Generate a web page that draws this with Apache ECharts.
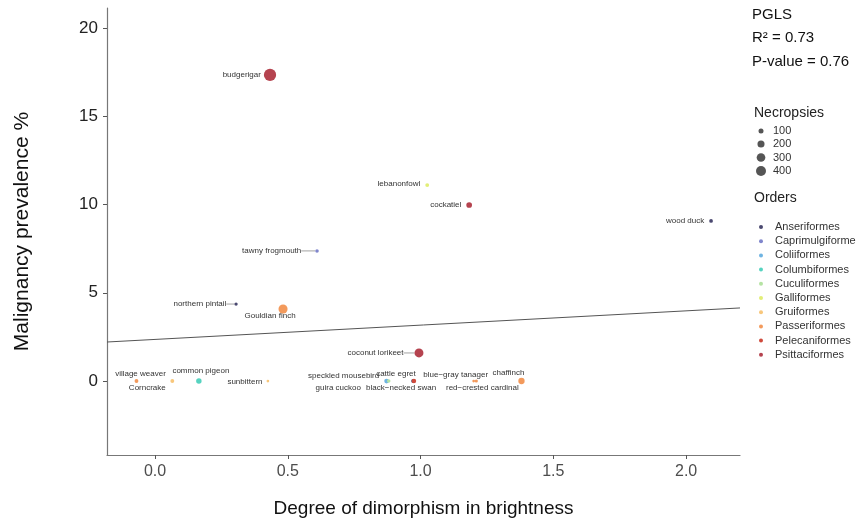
<!DOCTYPE html>
<html>
<head>
<meta charset="utf-8">
<script src="https://cdn.jsdelivr.net/npm/echarts@6/dist/echarts.min.js"></script>
<style>html,body{margin:0;padding:0;background:#fff}#c{width:856px;height:524px}</style>
</head>
<body>
<div id="c"></div>
<script>
// ---- data ----
const orders = ['Anseriformes','Caprimulgiformes','Coliiformes','Columbiformes','Cuculiformes','Galliformes','Gruiformes','Passeriformes','Pelecaniformes','Psittaciformes'];
const orderColors = ['#4a4870','#8086cc','#6fb4e2','#56d3c0','#b5e3a3','#e2ee77','#f8c77c','#f39a5c','#cf4a3c','#b5434f'];
const species = ['budgerigar','lebanonfowl','cockatiel','wood duck','tawny frogmouth','northern pintail','Gouldian finch','coconut lorikeet','village weaver','Corncrake','common pigeon','sunbittern','speckled mousebird','guira cuckoo','black\u2212necked swan','cattle egret','blue\u2212gray tanager','red\u2212crested cardinal','chaffinch'];
const speciesOrder = ['Psittaciformes','Galliformes','Psittaciformes','Anseriformes','Caprimulgiformes','Anseriformes','Passeriformes','Psittaciformes','Passeriformes','Gruiformes','Columbiformes','Gruiformes','Coliiformes','Cuculiformes','Anseriformes','Pelecaniformes','Passeriformes','Passeriformes','Passeriformes'];
const dimorphism = [0.433,1.025,1.183,2.094,0.61,0.305,0.482,0.994,-0.07,0.065,0.165,0.425,0.872,0.88,0.972,0.975,1.2,1.21,1.38];
const malignancy = [17.34,11.1,9.97,9.07,7.37,4.36,4.08,1.59,0,0,0,0,0,0,0,0,0,0,0];
const necropsies = [600,60,130,55,50,45,330,320,60,60,120,30,90,50,60,80,30,40,160];
const fitLine = [[-0.181,2.21],[2.203,4.14]];
const xTicks = [0,0.5,1,1.5,2];
const yTicks = [0,5,10,15,20];
const sizeLegend = [100,200,300,400];
const stats = ['PGLS','R\u00b2 = 0.73','P-value = 0.76'];

// ---- label placement (style) ----
const place = {
  'budgerigar':{p:'left',d:3},
  'lebanonfowl':{p:'left',d:5,dy:-1},
  'cockatiel':{p:'left',d:5},
  'wood duck':{p:'left',d:5},
  'tawny frogmouth':{p:'left',d:2,dx:-12,line:true},
  'northern pintail':{p:'left',d:1,dx:-7,line:true},
  'Gouldian finch':{p:'bottom',d:-2,dx:-13},
  'coconut lorikeet':{p:'left',d:2,dx:-9,line:true},
  'village weaver':{p:'top',d:1,dx:4},
  'Corncrake':{p:'bottom',d:1,dx:-25},
  'common pigeon':{p:'top',d:3,dx:2},
  'sunbittern':{p:'left',d:4,dy:1},
  'speckled mousebird':{p:'left',d:5,dy:-5},
  'guira cuckoo':{p:'left',d:26,dy:7},
  'black\u2212necked swan':{p:'bottom',d:1,dx:-12},
  'cattle egret':{p:'top',d:1,dx:-18},
  'blue\u2212gray tanager':{p:'top',d:1,dx:-18},
  'red\u2212crested cardinal':{p:'bottom',d:1,dx:6},
  'chaffinch':{p:'top',d:1,dx:-13}
};
const FONT = 'Liberation Sans, Arial, Helvetica, sans-serif';
const sizeOf = n => Math.sqrt(n) / 2;

const seriesIdx = [];
const series = orders.map((o, oi) => {
  const idxs = [];
  species.forEach((s, i) => { if (speciesOrder[i] === o) idxs.push(i); });
  seriesIdx.push(idxs);
  return {
    type: 'scatter',
    name: o,
    itemStyle: {color: orderColors[oi], opacity: 1},
    symbolSize: v => sizeOf(v[2]),
    z: 3,
    data: idxs.map(i => {
      const pl = place[species[i]];
      return {
        name: species[i],
        value: [dimorphism[i], malignancy[i], necropsies[i]],
        label: {show: true, position: pl.p, distance: pl.d},
        labelLine: {show: !!pl.line, lineStyle: {color: '#8a8a8a', width: 0.8}}
      };
    }),
    label: {show: true, formatter: p => p.name, fontSize: 8, color: '#333', fontFamily: FONT},
    labelLayout: params => {
      const arr = seriesIdx[params.seriesIndex];
      const i = arr ? arr[params.dataIndex] : null;
      if (i == null) return {};
      const pl = place[species[i]];
      return {dx: pl.dx || 0, dy: pl.dy || 0};
    },
    emphasis: {disabled: true}
  };
});
series.push({
  type: 'line', name: 'fit', data: fitLine, showSymbol: false, symbol: 'none',
  lineStyle: {color: '#555', width: 1}, z: 2, silent: true
});

const graphics = [];
stats.forEach((t, i) => graphics.push({type: 'text', left: 752, top: 7 + i * 23.5,
  style: {text: t, font: '15px ' + FONT, fill: '#111'}}));
graphics.push({type: 'text', left: 754, top: 106, style: {text: 'Necropsies', font: '14px ' + FONT, fill: '#222'}});
const sy = [131, 144, 157.5, 171];
sizeLegend.forEach((n, i) => {
  graphics.push({type: 'circle', shape: {cx: 761, cy: sy[i], r: sizeOf(n) / 2}, style: {fill: '#555'}});
  graphics.push({type: 'text', x: 773, y: sy[i], style: {text: String(n), font: '11px ' + FONT, fill: '#333', verticalAlign: 'middle'}});
});
graphics.push({type: 'text', left: 754, top: 191, style: {text: 'Orders', font: '14px ' + FONT, fill: '#222'}});

const chart = echarts.init(document.getElementById('c'), null, {renderer: 'canvas'});
chart.setOption({
  animation: false,
  backgroundColor: '#fff',
  grid: {left: 107, right: 116, top: 8, bottom: 69, containLabel: false},
  xAxis: {
    type: 'value', min: -0.181, max: 2.203,
    name: 'Degree of dimorphism in brightness', nameLocation: 'middle', nameGap: 44,
    nameTextStyle: {fontSize: 19, color: '#111', fontFamily: FONT},
    splitLine: {show: false},
    axisLine: {show: true, onZero: false, lineStyle: {color: '#777', width: 1.2}},
    axisTick: {show: true, length: 4, customValues: xTicks, lineStyle: {color: '#555'}},
    axisLabel: {customValues: xTicks, formatter: v => v.toFixed(1), fontSize: 16, color: '#4d4d4d', margin: 9, fontFamily: FONT}
  },
  yAxis: {
    type: 'value', min: -4.19, max: 21.13,
    name: 'Malignancy prevalence %', nameLocation: 'middle', nameGap: 74,
    nameTextStyle: {fontSize: 21, color: '#111', fontFamily: FONT},
    splitLine: {show: false},
    axisLine: {show: true, onZero: false, lineStyle: {color: '#777', width: 1.2}},
    axisTick: {show: true, length: 4, customValues: yTicks, lineStyle: {color: '#555'}},
    axisLabel: {customValues: yTicks, fontSize: 17, color: '#222', margin: 9, fontFamily: FONT}
  },
  legend: {
    data: orders, orient: 'vertical', left: 754, top: 216,
    icon: 'circle', itemWidth: 4, itemHeight: 4, itemGap: 2.2,
    textStyle: {fontSize: 11, color: '#333', fontFamily: FONT, lineHeight: 12, padding: [0, 0, 0, 7]},
    selectedMode: false
  },
  graphic: graphics,
  series: series
});
</script>
</body>
</html>
